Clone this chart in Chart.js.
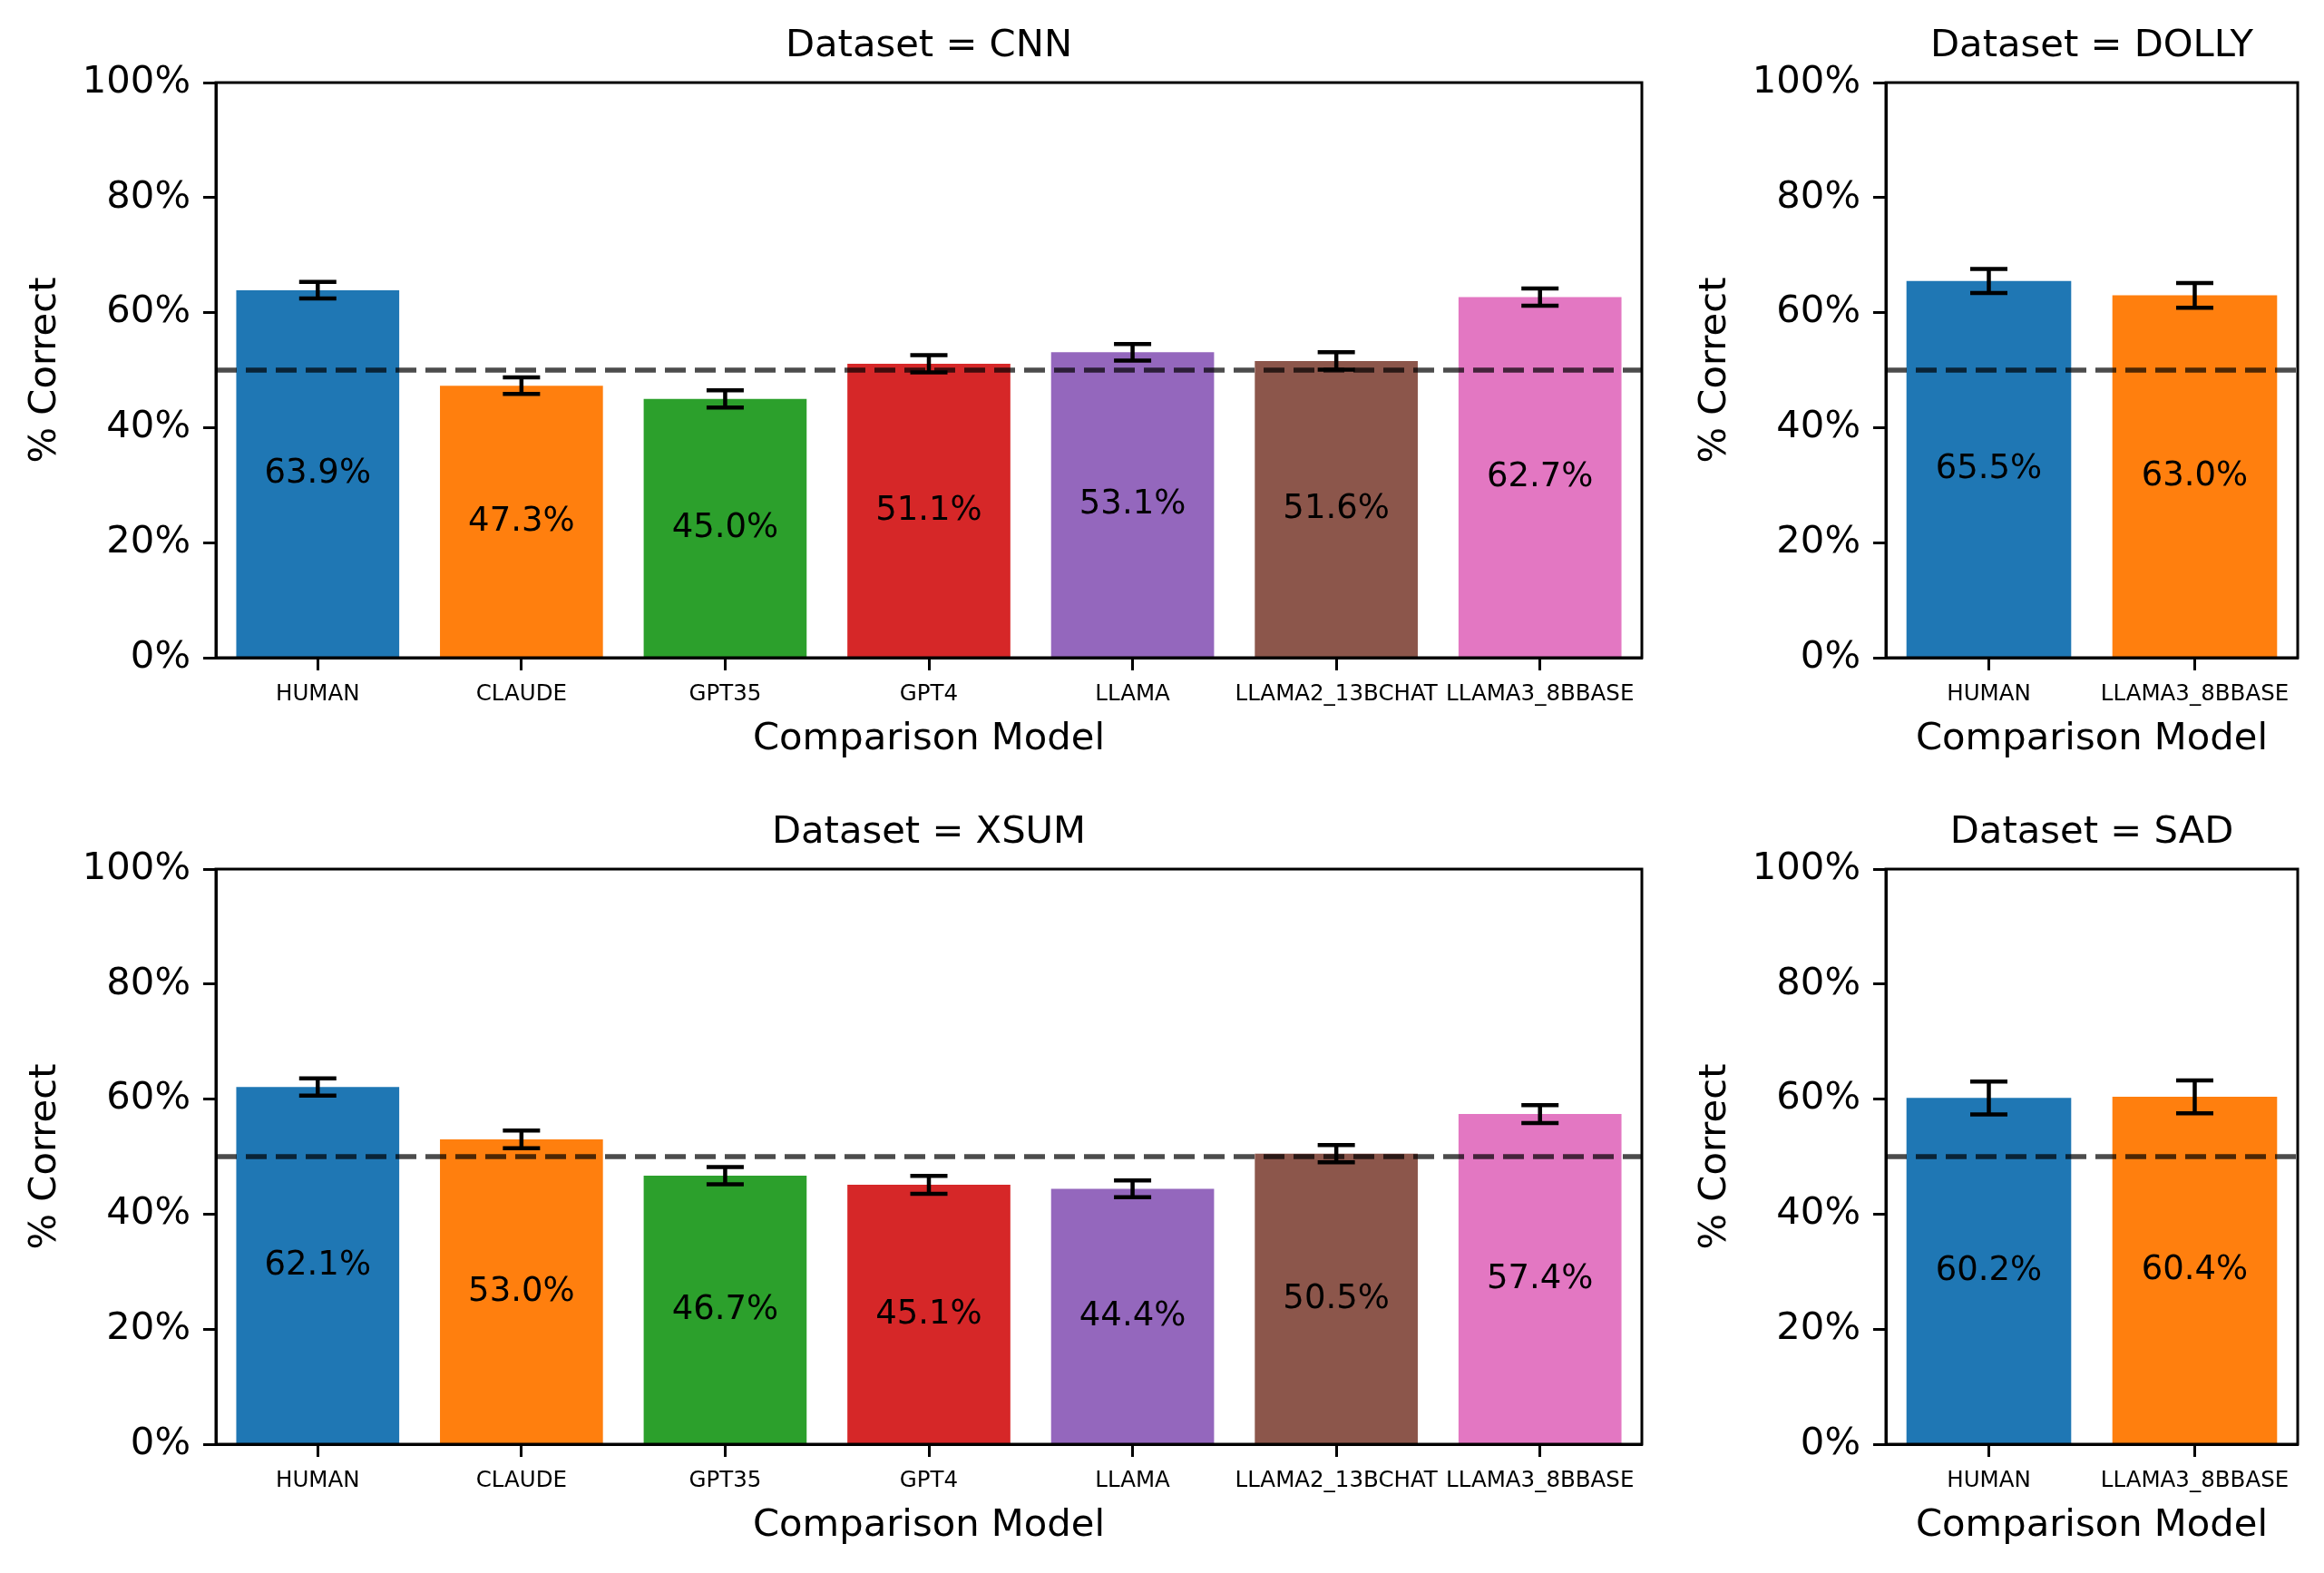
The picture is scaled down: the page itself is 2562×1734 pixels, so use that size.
<!DOCTYPE html>
<html>
<head>
<meta charset="utf-8">
<script src="https://cdn.jsdelivr.net/npm/chart.js@4.4.1/dist/chart.umd.min.js"></script>
<style>
    html, body { margin: 0; padding: 0; background: #fff; }
    body { width: 2562px; height: 1734px; position: relative; overflow: hidden; }
    canvas { position: absolute; }
</style>
</head>
<body>
<canvas id="cnnChart" width="1830" height="860" style="left:0px;top:0px"></canvas>
<canvas id="dollyChart" width="712" height="860" style="left:1841px;top:0px"></canvas>
<canvas id="xsumChart" width="1830" height="860" style="left:0px;top:867px"></canvas>
<canvas id="sadChart" width="712" height="860" style="left:1841px;top:867px"></canvas>
<script>
// categories
const allModels = ['HUMAN', 'CLAUDE', 'GPT35', 'GPT4', 'LLAMA', 'LLAMA2_13BCHAT', 'LLAMA3_8BBASE'];
const twoModels = ['HUMAN', 'LLAMA3_8BBASE'];

// % correct per dataset
const cnnValues = [63.9, 47.3, 45.0, 51.1, 53.1, 51.6, 62.7];
const cnnErrors = [1.45, 1.45, 1.5, 1.5, 1.45, 1.5, 1.5];
const dollyValues = [65.5, 63.0];
const dollyErrors = [2.1, 2.15];
const xsumValues = [62.1, 53.0, 46.7, 45.1, 44.4, 50.5, 57.4];
const xsumErrors = [1.5, 1.55, 1.5, 1.55, 1.45, 1.5, 1.55];
const sadValues = [60.2, 60.4];
const sadErrors = [2.85, 2.85];

const yTicks = [0, 20, 40, 60, 80, 100];
const chanceLevel = 50;

const barColors = ['#1f77b4', '#ff7f0e', '#2ca02c', '#d62728', '#9467bd', '#8c564b', '#e377c2'];

Chart.defaults.font.family = "'DejaVu Sans', sans-serif";
Chart.defaults.color = '#000';

// frame around the plot area
const framePlugin = {
    id: 'frame',
    afterDatasetsDraw(chart) {
        const a = chart.chartArea;
        const ctx = chart.ctx;
        ctx.save();
        ctx.strokeStyle = '#000';
        ctx.lineWidth = 3;
        ctx.strokeRect(a.left, a.top, a.right - a.left, a.bottom - a.top);
        ctx.restore();
    }
};

// value text in the middle of each bar, dashed chance line, error bars
const overlayPlugin = {
    id: 'overlay',
    afterDatasetsDraw(chart, args, opts) {
        const ctx = chart.ctx;
        const a = chart.chartArea;
        const y = chart.scales.y;
        const meta = chart.getDatasetMeta(0);
        const values = chart.data.datasets[0].data;

        ctx.save();
        ctx.fillStyle = '#000';
        ctx.font = "37px 'DejaVu Sans'";
        ctx.textAlign = 'center';
        ctx.textBaseline = 'middle';
        meta.data.forEach(function (bar, i) {
            ctx.fillText(values[i].toFixed(1) + '%', bar.x, y.getPixelForValue(values[i] / 2));
        });

        const yc = y.getPixelForValue(chanceLevel);
        ctx.strokeStyle = 'rgba(0,0,0,0.7)';
        ctx.lineWidth = 5.5;
        ctx.setLineDash([23, 10]);
        ctx.beginPath();
        ctx.moveTo(a.left, yc);
        ctx.lineTo(a.right, yc);
        ctx.stroke();
        ctx.setLineDash([]);

        ctx.strokeStyle = '#000';
        ctx.lineWidth = 4.5;
        meta.data.forEach(function (bar, i) {
            const e = opts.errors[i];
            const top = y.getPixelForValue(values[i] + e);
            const bot = y.getPixelForValue(values[i] - e);
            ctx.beginPath();
            ctx.moveTo(bar.x, top);
            ctx.lineTo(bar.x, bot);
            ctx.moveTo(bar.x - 20.5, top);
            ctx.lineTo(bar.x + 20.5, top);
            ctx.moveTo(bar.x - 20.5, bot);
            ctx.lineTo(bar.x + 20.5, bot);
            ctx.stroke();
        });
        ctx.restore();
    }
};

function makeChart(id, name, labels, values, errors) {
    const ctx = document.getElementById(id).getContext('2d');
    return new Chart(ctx, {
        type: 'bar',
        data: {
            labels: labels,
            datasets: [{
                data: values,
                backgroundColor: barColors.slice(0, labels.length),
                borderWidth: 0,
                barPercentage: 0.8,
                categoryPercentage: 1.0
            }]
        },
        options: {
            responsive: false,
            animation: false,
            devicePixelRatio: 1,
            layout: { padding: { right: 20 } },
            plugins: {
                legend: { display: false },
                tooltip: { enabled: false },
                title: {
                    display: true,
                    fullSize: false,
                    text: 'Dataset = ' + name,
                    color: '#000',
                    font: { size: 41.7, weight: 'normal' },
                    padding: { top: 26, bottom: 15 }
                },
                overlay: { errors: errors }
            },
            scales: {
                x: {
                    grid: { offset: false, drawOnChartArea: false, tickLength: 14, tickWidth: 3, tickColor: '#000' },
                    border: { display: true, color: '#000', width: 3 },
                    ticks: { font: { size: 24.5 }, padding: 12, maxRotation: 0, autoSkip: false },
                    title: {
                        display: true,
                        text: 'Comparison Model',
                        font: { size: 41.7 },
                        padding: { top: 0, bottom: 20 }
                    },
                    afterFit: function (scale) { scale.height = 135; }
                },
                y: {
                    min: 0,
                    max: 100,
                    grid: { drawOnChartArea: false, tickLength: 14, tickWidth: 3, tickColor: '#000' },
                    border: { display: true, color: '#000', width: 3 },
                    afterBuildTicks: function (scale) {
                        scale.ticks = yTicks.map(function (v) { return { value: v }; });
                    },
                    ticks: {
                        font: { size: 41.7 },
                        padding: 14,
                        callback: function (value) { return value + '%'; }
                    },
                    title: {
                        display: true,
                        text: '% Correct',
                        font: { size: 41.7 },
                        padding: { top: 25, bottom: 0 }
                    },
                    afterFit: function (scale) { scale.width = 238; }
                }
            }
        },
        plugins: [framePlugin, overlayPlugin]
    });
}

makeChart('cnnChart', 'CNN', allModels, cnnValues, cnnErrors);
makeChart('dollyChart', 'DOLLY', twoModels, dollyValues, dollyErrors);
makeChart('xsumChart', 'XSUM', allModels, xsumValues, xsumErrors);
makeChart('sadChart', 'SAD', twoModels, sadValues, sadErrors);
</script>
</body>
</html>
